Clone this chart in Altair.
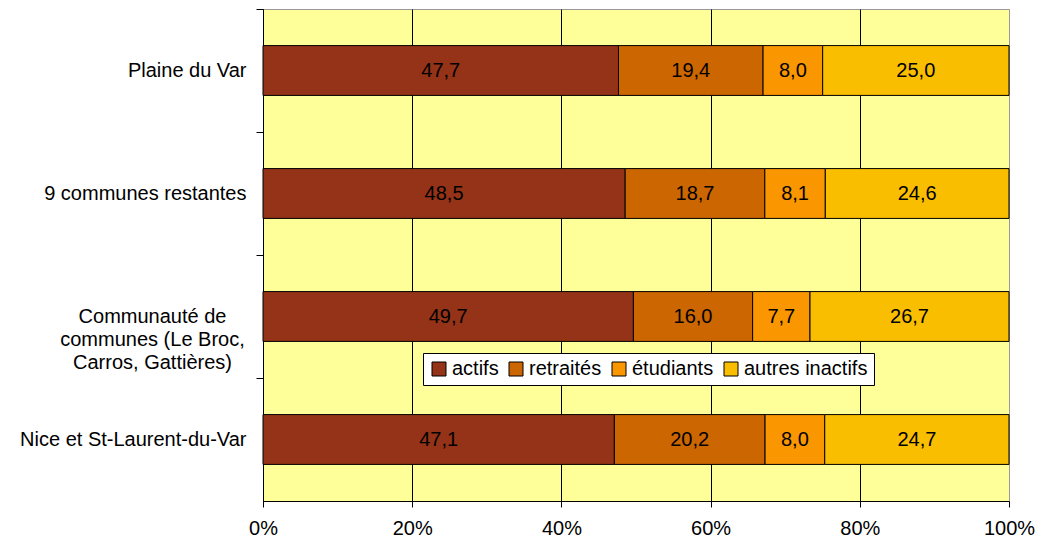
import altair as alt
import pandas as pd

categories = [
    "Plaine du Var",
    "9 communes restantes",
    "Communauté de\ncommunes (Le Broc,\nCarros, Gattières)",
    "Nice et St-Laurent-du-Var",
]
series = ["actifs", "retraités", "étudiants", "autres inactifs"]
actifs = [47.7, 48.5, 49.7, 47.1]
retraites = [19.4, 18.7, 16.0, 20.2]
etudiants = [8.0, 8.1, 7.7, 8.0]
autres = [25.0, 24.6, 26.7, 24.7]
colors = ["#943317", "#CC6600", "#FA9600", "#FABE00"]
x_ticks = [0, 0.2, 0.4, 0.6, 0.8, 1.0]

values = [actifs, retraites, etudiants, autres]
rows = []
for i, c in enumerate(categories):
    for j, s in enumerate(series):
        rows.append({"cat": c, "serie": s, "ord": j, "value": values[j][i]})
df = pd.DataFrame(rows)

FONT = "Liberation Sans"
PAD_IN = 0.595
H = 492
HALF_GAP = PAD_IN * (H / len(categories)) / 2

yscale = alt.Scale(paddingInner=PAD_IN, paddingOuter=PAD_IN / 2)
xscale = alt.Scale(domain=[0, 1])

base = alt.Chart(df)

is_multi = "indexof(datum.value, 'Communaut') >= 0"

bars = base.mark_bar(stroke="black", strokeWidth=1).encode(
    y=alt.Y(
        "cat:N",
        sort=categories,
        scale=yscale,
        axis=alt.Axis(
            title=None,
            labelExpr="split(datum.label, '\\n')",
            labelFont=FONT,
            labelFontSize=20,
            labelColor="black",
            labelLimit=400,
            labelLineHeight=23,
            labelAlign={"condition": {"test": is_multi, "value": "center"}, "value": "right"},
            labelPadding={"condition": {"test": is_multi, "value": 104}, "value": 10},
            labelBaseline="middle",
            bandPosition=0,
            tickOffset=-HALF_GAP,
            labelOffset=HALF_GAP,
            tickSize=7,
            tickColor="black",
            domainColor="black",
            grid=False,
        ),
    ),
    x=alt.X(
        "value:Q",
        stack="normalize",
        scale=xscale,
        axis=alt.Axis(
            title=None,
            values=x_ticks,
            format=".0%",
            labelFont=FONT,
            labelFontSize=20,
            labelColor="black",
            labelPadding=11,
            labelFlush=False,
            tickSize=6,
            tickColor="black",
            domainColor="black",
            grid=True,
            gridColor={"condition": {"test": "datum.value >= 1", "value": "#999999"}, "value": "black"},
            gridWidth=1,
        ),
    ),
    color=alt.Color(
        "serie:N",
        sort=series,
        scale=alt.Scale(domain=series, range=colors),
        legend=alt.Legend(
            orient="none",
            legendX=160,
            legendY=344,
            direction="horizontal",
            title=None,
            fillColor="white",
            strokeColor="black",
            padding=6,
            symbolType="square",
            symbolSize=196,
            symbolStrokeColor="black",
            symbolStrokeWidth=1,
            labelFont=FONT,
            labelFontSize=20,
            labelColor="black",
            labelOffset=3,
            columnPadding=7,
            labelLimit=300,
        ),
    ),
    order=alt.Order("ord:Q"),
)

labels = (
    base.transform_stack(
        stack="value",
        groupby=["cat"],
        as_=["v0", "v1"],
        offset="normalize",
        sort=[alt.SortField("ord")],
    )
    .transform_calculate(
        mid="(datum.v0 + datum.v1) / 2",
        txt="replace(format(datum.value, '.1f'), '.', ',')",
    )
    .mark_text(font=FONT, fontSize=20, color="black", align="center", baseline="middle")
    .encode(
        y=alt.Y("cat:N", sort=categories, scale=yscale),
        x=alt.X("mid:Q", scale=xscale),
        text="txt:N",
    )
)

chart = (
    alt.layer(bars, labels)
    .properties(
        width=746,
        height=H,
        background="white",
        autosize=alt.AutoSizeParams(type="none"),
        padding={"left": 255, "top": 1, "right": 27, "bottom": 36},
    )
    .configure_view(fill="#FFFF99", stroke="#999999", strokeWidth=1)
)

chart.save("out.html", embed_options={"renderer": "svg", "actions": False})
